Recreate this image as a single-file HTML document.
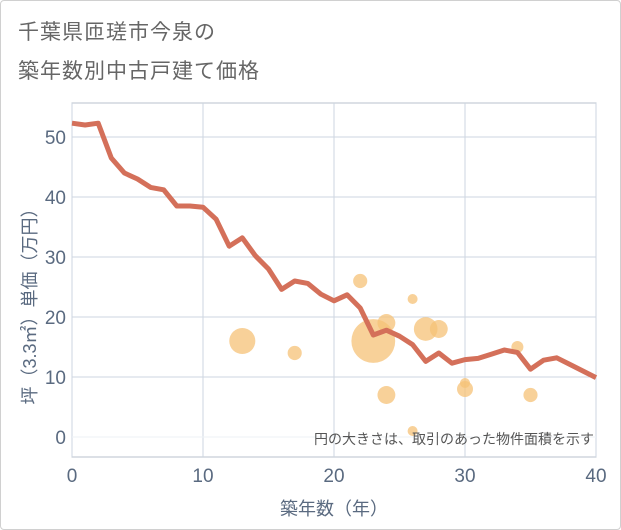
<!DOCTYPE html>
<html><head><meta charset="utf-8"><style>
body{margin:0;background:#fff;}
#wrap{position:relative;width:621px;height:530px;overflow:hidden;font-family:"Liberation Sans","Noto Sans CJK JP",sans-serif;}
#frame{position:absolute;left:0;top:0;width:619px;height:528px;border:1px solid #d0d0d0;border-radius:4px;}
.title{position:absolute;left:18px;font-size:21px;color:#666;letter-spacing:1px;}
</style></head><body>
<div id="wrap">
<div id="frame"></div>
<div class="title" style="top:16px">千葉県匝瑳市今泉の</div>
<div class="title" style="top:55px">築年数別中古戸建て価格</div>
<svg id="chart" width="621" height="530" style="position:absolute;left:0;top:0"></svg>
</div>
<script>
const lineAges=[0,1,2,3,4,5,6,7,8,9,10,11,12,13,14,15,16,17,18,19,20,21,22,23,24,25,26,27,28,29,30,31,32,33,34,35,36,37,38,39,40];
const linePrices=[52.3,52,52.3,46.5,44,43,41.6,41.2,38.5,38.5,38.3,36.3,31.8,33.2,30.2,28,24.6,26,25.6,23.8,22.7,23.7,21.5,17,17.8,16.8,15.4,12.6,14,12.3,12.9,13.1,13.8,14.5,14.1,11.3,12.8,13.2,12.1,11,9.9];
const bubbleAges=[13,17,22,23,24,24,26,26,27,28,30,30,34,35];
const bubblePrices=[16,14,26,16,19,7,23,1,18,18,8,9,15,7];
const bubbleAreas=[170,50,50,480,80,80,25,25,140,80,64,25,36,50];
const xTicks=[0,10,20,30,40];
const yTicks=[0,10,20,30,40,50];
const L=72,R=596,T=103,B=457;
const xs=v=>L+(v-0)/40*(R-L);
const ys=v=>437-v*6;
const svg=document.getElementById('chart');
const NS='http://www.w3.org/2000/svg';
function mk(t,a){const e=document.createElementNS(NS,t);for(const k in a)e.setAttribute(k,a[k]);svg.appendChild(e);return e;}
let bg=mk('rect',{x:L,y:T,width:R-L,height:B-T,fill:'#fff',stroke:'#b8c2cc','stroke-width':1});


xTicks.forEach(v=>{
 const g=mk('line',{x1:xs(v),x2:xs(v),y1:T,y2:B,stroke:'#cdd6e0','stroke-width':1});
 
 
 const t=mk('text',{x:xs(v),y:482,'text-anchor':'middle','font-size':19,fill:'#5a6a80'});t.textContent=v;
 
 
});
yTicks.forEach(v=>{
 const g=mk('line',{x1:L,x2:R,y1:ys(v),y2:ys(v),stroke:v===0?'#eef2f6':'#cdd6e0','stroke-width':1});
 
 
 const t=mk('text',{x:66,y:ys(v)+7,'text-anchor':'end','font-size':19,fill:'#5a6a80'});t.textContent=v;
 
 
});
bubbleAges.forEach((a,i)=>{
 const c=mk('circle',{cx:xs(a),cy:ys(bubblePrices[i]),r:Math.sqrt(bubbleAreas[i]),fill:'#f5c277','fill-opacity':0.75});
 
 
});
const pl=mk('polyline',{points:lineAges.map((a,i)=>xs(a)+','+ys(linePrices[i])).join(' '),fill:'none',stroke:'#d4705a','stroke-width':5,'stroke-linejoin':'round'});


const note=mk('text',{x:594,y:444,'text-anchor':'end','font-size':14,fill:'#555'});note.textContent='円の大きさは、取引のあった物件面積を示す';


const xt=mk('text',{x:xs(20),y:515,'text-anchor':'middle','font-size':18,fill:'#5a6a80'});xt.textContent='築年数（年）';


const yt=mk('text',{x:0,y:0,'text-anchor':'middle','font-size':18,fill:'#5a6a80',transform:'translate(36,302) rotate(-90)'});yt.textContent='坪（3.3㎡）単価（万円）';


</script>
</body></html>
